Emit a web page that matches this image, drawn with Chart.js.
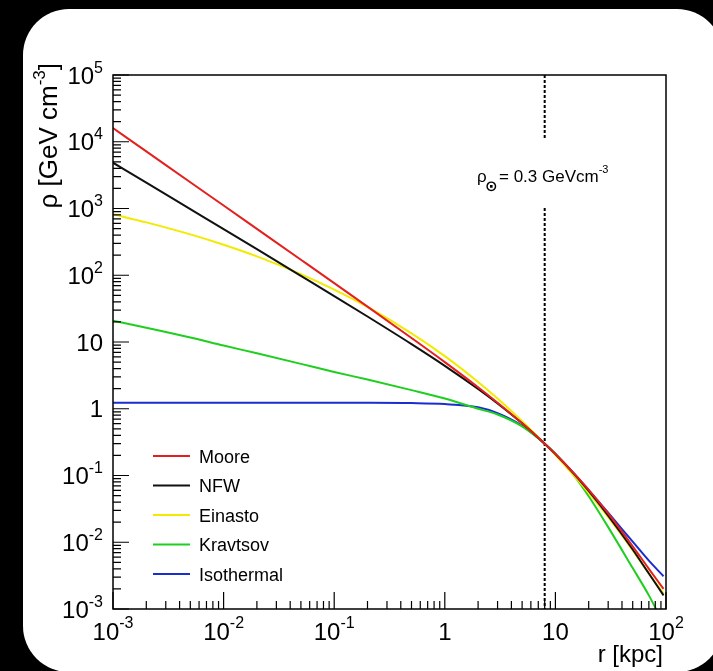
<!DOCTYPE html>
<html>
<head>
<meta charset="utf-8">
<script src="https://cdn.jsdelivr.net/npm/chart.js@4.4.0/dist/chart.umd.min.js"></script>
<style>
  html, body { margin: 0; padding: 0; background: #000; overflow: hidden; }
  #panel { position: absolute; left: 23px; top: 9px; width: 700px; height: 663px; background: #fff; border-radius: 46px; }
  #wrap { position: absolute; left: 0; top: 0; width: 713px; height: 671px; }
</style>
</head>
<body>
<div id="panel"></div>
<div id="wrap"><canvas id="myChart" width="713" height="671"></canvas></div>
<script>
// galactocentric radius in kpc, density in GeV cm^-3
const radius = [0.001, 0.002, 0.005, 0.01, 0.02, 0.05, 0.1, 0.2, 0.5, 1, 2, 3, 5, 8, 10, 15, 20, 30, 50, 70, 95];
const moore = [16000, 7160, 2470, 1110, 496, 171, 76.3, 33.9, 11.5, 5.0, 2.1, 1.23, 0.607, 0.3, 0.21, 0.104, 0.061, 0.027, 0.0087, 0.0040, 0.0020];
const nfw = [4850, 2440, 980, 492, 246, 98, 48.8, 24.1, 9.3, 4.4, 1.98, 1.2, 0.605, 0.3, 0.209, 0.1024, 0.0588, 0.0251, 0.0078, 0.0034, 0.0016];
const einasto = [820, 620, 410, 287, 192, 104, 61, 33.5, 13.5, 6.15, 2.52, 1.42, 0.652, 0.3, 0.203, 0.0964, 0.055, 0.0238, 0.00757, 0.0034, 0.0017];
const kravtsov = [20.8, 16.4, 11.7, 8.85, 6.77, 4.70, 3.55, 2.74, 1.90, 1.42, 1.0, 0.82, 0.545, 0.3, 0.212, 0.0959, 0.0488, 0.01686, 0.0041, 0.0016, 0.0006];
const isothermal = [1.23, 1.23, 1.23, 1.23, 1.23, 1.23, 1.229, 1.228, 1.215, 1.175, 1.05, 0.86, 0.557, 0.3, 0.211, 0.104, 0.0605, 0.0277, 0.0102, 0.0053, 0.0031];

const profileNames = ['Moore', 'NFW', 'Einasto', 'Kravtsov', 'Isothermal'];
const profileValues = [moore, nfw, einasto, kravtsov, isothermal];
const profileColors = ['#e3201e', '#111111', '#f2ea00', '#1fcf1f', '#1a2ed0'];

const xMajor = [1e-3, 1e-2, 1e-1, 1, 10, 100];
const xLabels = [['10', '-3'], ['10', '-2'], ['10', '-1'], ['1', ''], ['10', ''], ['10', '2']];
const yMajor = [1e-3, 1e-2, 1e-1, 1, 10, 100, 1e3, 1e4, 1e5];
const yLabels = [['10', '-3'], ['10', '-2'], ['10', '-1'], ['1', ''], ['10', ''], ['10', '2'], ['10', '3'], ['10', '4'], ['10', '5']];

const rSun = 8;
const rhoSun = '0.3';

const FONT = '"Liberation Sans", Arial, Helvetica, sans-serif';

function withMinors(majors) {
  let out = [];
  majors.forEach((m, i) => {
    out.push({value: m, major: true});
    if (i < majors.length - 1) {
      for (let k = 2; k <= 9; k++) out.push({value: m * k, major: false});
    }
  });
  return out;
}

// base text with a superscript, returns total width
function powText(ctx, base, sup, x, y, align, size, supSize, raise) {
  ctx.font = size + 'px ' + FONT;
  let wb = ctx.measureText(base).width;
  ctx.font = supSize + 'px ' + FONT;
  let ws = sup ? ctx.measureText(sup).width : 0;
  let w = wb + ws;
  let x0 = align == 'right' ? x - w : (align == 'center' ? x - w / 2 : x);
  ctx.textAlign = 'left';
  ctx.textBaseline = 'alphabetic';
  ctx.font = size + 'px ' + FONT;
  ctx.fillText(base, x0, y);
  if (sup) {
    ctx.font = supSize + 'px ' + FONT;
    ctx.fillText(sup, x0 + wb, y - raise);
  }
  return w;
}

const rootStyle = {
  id: 'rootStyle',
  beforeDatasetsDraw(chart) {
    const ctx = chart.ctx, a = chart.chartArea;
    const xs = chart.scales.x.getPixelForValue(rSun);
    ctx.save();
    ctx.strokeStyle = '#000';
    ctx.lineWidth = 2;
    ctx.setLineDash([3, 2]);
    ctx.beginPath();
    ctx.moveTo(xs, a.top);
    ctx.lineTo(xs, 140);
    ctx.moveTo(xs, 208);
    ctx.lineTo(xs, a.bottom);
    ctx.stroke();
    ctx.restore();
  },
  afterDatasetsDraw(chart) {
    const ctx = chart.ctx, a = chart.chartArea;
    const sx = chart.scales.x, sy = chart.scales.y;
    ctx.save();
    ctx.fillStyle = '#000';
    ctx.strokeStyle = '#000';

    // frame
    ctx.lineWidth = 1.5;
    ctx.strokeRect(a.left, a.top, a.right - a.left, a.bottom - a.top);

    // ticks inside the frame
    ctx.lineWidth = 1.2;
    ctx.beginPath();
    sx.ticks.forEach(t => {
      const px = sx.getPixelForValue(t.value);
      ctx.moveTo(px, a.bottom);
      ctx.lineTo(px, a.bottom - (t.major ? 17 : 8));
    });
    sy.ticks.forEach(t => {
      const py = sy.getPixelForValue(t.value);
      ctx.moveTo(a.left, py);
      ctx.lineTo(a.left + (t.major ? 16 : 8), py);
    });
    ctx.stroke();

    // tick labels
    xMajor.forEach((v, i) => {
      powText(ctx, xLabels[i][0], xLabels[i][1], sx.getPixelForValue(v), a.bottom + 31, 'center', 24, 16, 12);
    });
    yMajor.forEach((v, i) => {
      powText(ctx, yLabels[i][0], yLabels[i][1], 103, sy.getPixelForValue(v) + 8.5, 'right', 24, 16, 11);
    });

    // axis titles
    ctx.font = '24px ' + FONT;
    ctx.textAlign = 'right';
    ctx.textBaseline = 'alphabetic';
    ctx.fillText('r [kpc]', 663, 662);

    ctx.save();
    ctx.translate(57, 63);
    ctx.rotate(-Math.PI / 2);
    ctx.font = '26px ' + FONT;
    let wEnd = ctx.measureText(']').width;
    ctx.fillText(']', 0, 0);
    ctx.font = '17px ' + FONT;
    let wSup = ctx.measureText('-3').width;
    ctx.fillText('-3', -wEnd, -12);
    ctx.font = '26px ' + FONT;
    ctx.fillText('\u03c1 [GeV cm', -wEnd - wSup, 0);
    ctx.restore();

    // solar density note next to the dashed line
    ctx.textAlign = 'left';
    ctx.font = '17px ' + FONT;
    ctx.fillText('\u03c1', 477, 182);
    ctx.font = 'bold 15px "DejaVu Sans", sans-serif';
    ctx.fillText('\u2299', 485, 191);
    powText(ctx, '= ' + rhoSun + ' GeVcm', '-3', 499, 182, 'left', 17, 11, 9);

    // legend
    chart.data.datasets.forEach((ds, i) => {
      const ly = 456 + i * 29.5;
      ctx.strokeStyle = ds.borderColor;
      ctx.lineWidth = 2;
      ctx.beginPath();
      ctx.moveTo(153, ly);
      ctx.lineTo(190, ly);
      ctx.stroke();
      ctx.fillStyle = '#000';
      ctx.font = '18px ' + FONT;
      ctx.textBaseline = 'middle';
      ctx.fillText(ds.label, 199, ly + 2);
    });
    ctx.restore();
  }
};

const datasets = profileNames.map((name, i) => ({
  label: name,
  data: radius.map((r, j) => ({x: r, y: profileValues[i][j]})),
  borderColor: profileColors[i],
  backgroundColor: profileColors[i],
  borderWidth: 2,
  pointRadius: 0,
  fill: false,
  cubicInterpolationMode: 'monotone'
}));

const config = {
  type: 'line',
  data: {datasets: datasets},
  options: {
    responsive: false,
    animation: false,
    layout: {padding: {left: 0, top: 75, right: 47, bottom: 0}},
    plugins: {legend: {display: false}, tooltip: {enabled: false}},
    scales: {
      x: {
        type: 'logarithmic',
        min: 1e-3,
        max: 1e2,
        grid: {display: false},
        border: {display: false},
        ticks: {display: false},
        afterBuildTicks: s => { s.ticks = withMinors(xMajor); },
        afterFit: s => { s.height = 62; }
      },
      y: {
        type: 'logarithmic',
        min: 1e-3,
        max: 1e5,
        grid: {display: false},
        border: {display: false},
        ticks: {display: false},
        afterBuildTicks: s => { s.ticks = withMinors(yMajor); },
        afterFit: s => { s.width = 113; }
      }
    }
  },
  plugins: [rootStyle]
};

new Chart(document.getElementById('myChart'), config);
</script>
</body>
</html>
